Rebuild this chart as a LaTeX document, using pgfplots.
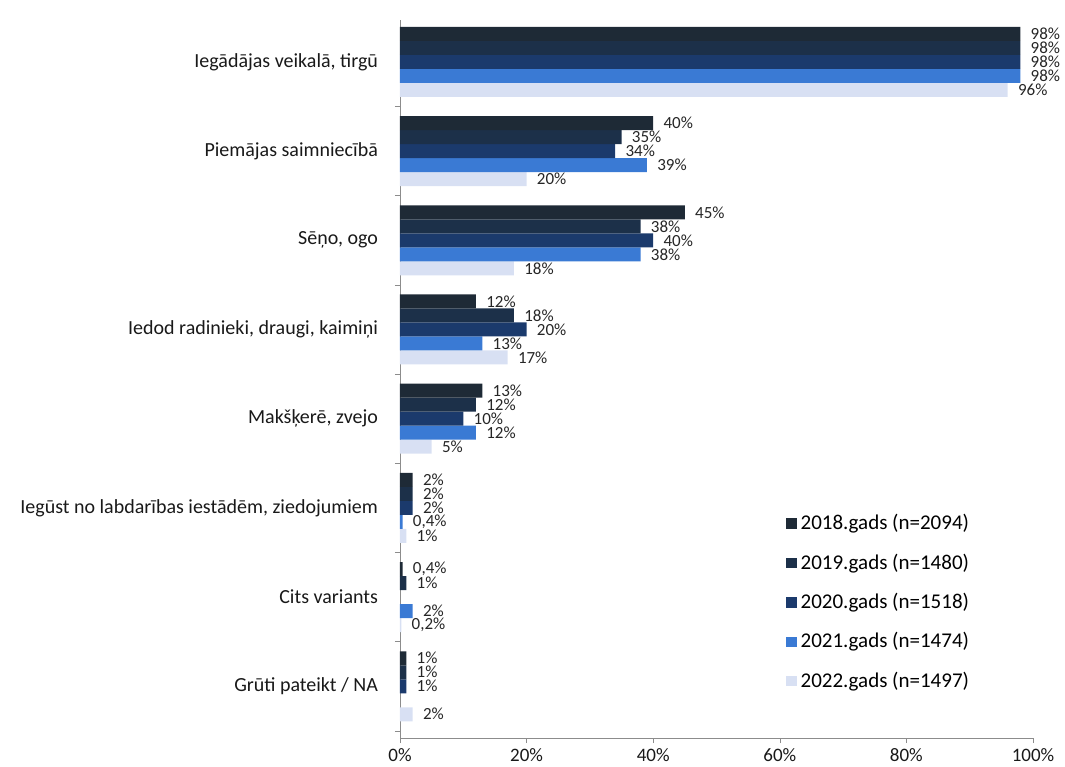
\documentclass[border=0pt]{standalone}
\usepackage{fontspec}
\setmainfont{Carlito}
\usepackage{pgfplots}
\pgfplotsset{compat=1.18}

\definecolor{c18}{HTML}{1E2A36}
\definecolor{c19}{HTML}{1C3049}
\definecolor{c20}{HTML}{1B3A6C}
\definecolor{c21}{HTML}{3A7AD4}
\definecolor{c22}{HTML}{D8E0F3}

\begin{document}
\begin{tikzpicture}
\path[use as bounding box] (-200pt,-14pt) rectangle (332.5pt,369pt);
\begin{axis}[
    at={(0,0)}, anchor=south west,
    scale only axis, width=316.5pt, height=359pt,
    xbar, bar width=7pt,
    xmin=0, xmax=100, ymin=-0.58, ymax=7.47,
    axis x line*=bottom, axis y line*=left,
    axis line style={draw=black!45, -},
    every outer x axis line/.append style={-},
    every outer y axis line/.append style={-},
    tick align=outside,
    tick style={draw=black!45},
    xtick={0,20,...,100},
    xticklabel={\pgfmathprintnumber{\tick}\%},
    major tick length=2.5pt,
    ytick={0,...,7},
    yticklabels={Grūti pateikt / NA, Cits variants, {Iegūst no labdarības iestādēm, ziedojumiem}, {Makšķerē, zvejo}, {Iedod radinieki, draugi, kaimiņi}, {Sēņo, ogo}, Piemājas saimniecībā, {Iegādājas veikalā, tirgū}},
    major y tick style={draw=none},
    minor ytick={-0.5,0.5,...,6.5},
    minor tick length=2.5pt,
    yticklabel style={font=\fontsize{10}{12}\selectfont, text=black!90, xshift=-5pt},
    xticklabel style={font=\fontsize{9.5}{11}\selectfont, text=black!90, yshift=1pt},
    /pgf/number format/assume math mode=true,
    point meta=x,
    nodes near coords={\pgfmathprintnumber[use comma]{\pgfplotspointmeta}\%},
    every node near coord/.append style={font=\fontsize{8.5}{8.5}\selectfont, text=black!85, anchor=west, inner sep=1pt, xshift=4pt},
    reverse legend,
    legend style={at={(0.6,0.323)}, anchor=north west, draw=none, fill=none,
        font=\fontsize{10.5}{12}\selectfont, row sep=6.5pt},
    legend cell align=left,
    legend image code/.code={\fill[#1,draw=none] (0pt,-2.6pt) rectangle (5.2pt,2.6pt);},
]
\addplot[fill=c22, draw=none, bar shift=-14pt] coordinates {(96,7) (20,6) (18,5) (17,4) (5,3) (1,2) (0.2,1) (2,0)};
\addlegendentry{2022.gads (n=1497)}
\addplot[fill=c21, draw=none, bar shift=-7pt] coordinates {(98,7) (39,6) (38,5) (13,4) (12,3) (0.4,2) (2,1)};
\addlegendentry{2021.gads (n=1474)}
\addplot[fill=c20, draw=none, bar shift=0pt] coordinates {(98,7) (34,6) (40,5) (20,4) (10,3) (2,2) (1,0)};
\addlegendentry{2020.gads (n=1518)}
\addplot[fill=c19, draw=none, bar shift=7pt] coordinates {(98,7) (35,6) (38,5) (18,4) (12,3) (2,2) (1,1) (1,0)};
\addlegendentry{2019.gads (n=1480)}
\addplot[fill=c18, draw=none, bar shift=14pt] coordinates {(98,7) (40,6) (45,5) (12,4) (13,3) (2,2) (0.4,1) (1,0)};
\addlegendentry{2018.gads (n=2094)}
\end{axis}
\end{tikzpicture}
\end{document}
